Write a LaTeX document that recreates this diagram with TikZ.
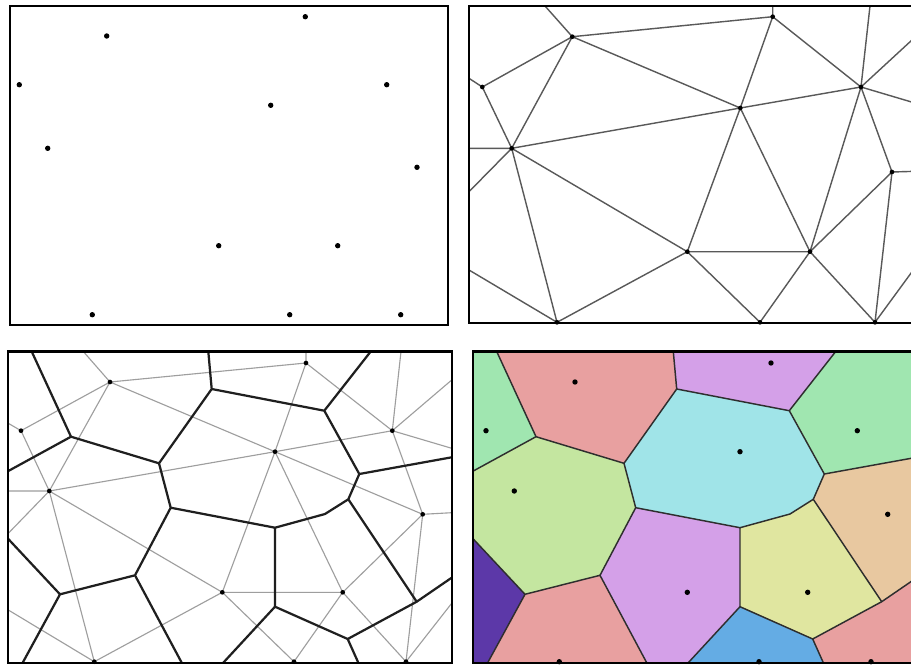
\documentclass[tikz,border=0pt]{standalone}
\definecolor{cmint}{RGB}{160,230,176}
\definecolor{csalmon}{RGB}{232,160,160}
\definecolor{cviolet}{RGB}{212,160,232}
\definecolor{ccyan}{RGB}{160,228,232}
\definecolor{clime}{RGB}{196,230,160}
\definecolor{ctan}{RGB}{232,200,160}
\definecolor{cyellow}{RGB}{224,230,160}
\definecolor{cblue}{RGB}{100,172,228}
\definecolor{cdark}{RGB}{92,56,168}
\newcommand{\vorgeom}[1]{%
 \coordinate (#1TL) at (8.3,351.5);
 \coordinate (#1TR) at (451.7,351.5);
 \coordinate (#1BL) at (8.3,662.7);
 \coordinate (#1BR) at (451.7,662.7);
 \coordinate (#1v1) at (31.7,351.5);
 \coordinate (#1v2) at (71,436.7);
 \coordinate (#1v3) at (8.3,471);
 \coordinate (#1v4) at (159,463.3);
 \coordinate (#1v5) at (208.3,351.5);
 \coordinate (#1v6) at (211.7,389);
 \coordinate (#1v7) at (324.3,410.7);
 \coordinate (#1v8) at (370.7,351.5);
 \coordinate (#1v9) at (359.3,474);
 \coordinate (#1v10) at (451.7,457.3);
 \coordinate (#1v11) at (348.3,499.3);
 \coordinate (#1v12) at (325,514);
 \coordinate (#1v13) at (275,527.7);
 \coordinate (#1v14) at (170.7,507.7);
 \coordinate (#1v15) at (135,575.3);
 \coordinate (#1v16) at (60,594.3);
 \coordinate (#1v17) at (8.3,539);
 \coordinate (#1v18) at (22.7,662.7);
 \coordinate (#1v19) at (181.7,662.7);
 \coordinate (#1v20) at (275,606.7);
 \coordinate (#1v21) at (223.3,662.7);
 \coordinate (#1v22) at (347.7,639);
 \coordinate (#1v23) at (358.3,662.7);
 \coordinate (#1v24) at (416.7,601.7);
 \coordinate (#1v25) at (451.7,577.7);
 \coordinate (#1A) at (110,382);
 \coordinate (#1B) at (306,363);
 \coordinate (#1C) at (21,430.7);
 \coordinate (#1D) at (275,451.7);
 \coordinate (#1E) at (392.3,430.7);
 \coordinate (#1F) at (49.3,491);
 \coordinate (#1G) at (422.7,514.3);
 \coordinate (#1H) at (222.3,592.3);
 \coordinate (#1I) at (342.7,592.3);
 \coordinate (#1J) at (94.3,661.7);
 \coordinate (#1K) at (294,661.7);
 \coordinate (#1L) at (406,661.7);
}
\newcommand{\voredges}[2]{%
 \draw[#2] (#1v1)--(#1v2)--(#1v3) (#1v2)--(#1v4)--(#1v6)--(#1v5)
  (#1v6)--(#1v7)--(#1v8) (#1v7)--(#1v9)--(#1v10)
  (#1v9)--(#1v11)--(#1v12)--(#1v13)--(#1v14)--(#1v4)
  (#1v14)--(#1v15)--(#1v16)--(#1v17) (#1v16)--(#1v18) (#1v15)--(#1v19)
  (#1v13)--(#1v20)--(#1v21) (#1v20)--(#1v22)--(#1v23)
  (#1v22)--(#1v24)--(#1v11) (#1v24)--(#1v25);
}
\newcommand{\vorsites}[2]{%
 \foreach \s in {A,B,C,D,E,F,G,H,I,J,K,L} {\node[#2] (#1dot\s) at (#1\s) {};}
}
\begin{document}
\begin{tikzpicture}[x=0.03cm,y=-0.03cm,
  frame/.style={draw=black,line width=2pt},
  dedge/.style={draw=black!65,line width=1.2pt,line cap=round},
  dlight/.style={draw=black!38,line width=0.95pt},
  vedge/.style={draw=black!88,line width=1.9pt,line join=round},
  vedgefour/.style={draw=black!82,line width=1.25pt,line join=round},
  dot/.style={circle,fill=black,inner sep=0pt,minimum size=4.6pt},
  sdot/.style={circle,fill=black,inner sep=0pt,minimum size=4pt}]
\useasboundingbox (0,0) rectangle (911,665);
\clip (0,0) rectangle (911,665);
\fill[white] (0,0) rectangle (911,665);

% ---------- panel 1: sites ----------
\foreach \n/\x/\y in {a/106.7/36, b/305.3/16.7, c/19.3/84.7, d/270.7/105.3,
  e/386.7/84.7, f/47.7/148.3, g/417/167.3, h/218.7/245.7, i/337.7/245.7,
  j/92.3/314.7, k/289.7/314.7, l/400.7/314.7}
  \node[dot] (one\n) at (\x,\y) {};
\draw[frame] (10,6) rectangle (448,325);

% ---------- panel 2: Delaunay triangulation ----------
\coordinate (tA) at (572.3,36.7);
\coordinate (tB) at (772.7,16.7);
\coordinate (tC) at (482.3,87);
\coordinate (tD) at (740.3,108);
\coordinate (tE) at (861,87);
\coordinate (tF) at (511.7,148.3);
\coordinate (tG) at (892,172);
\coordinate (tH) at (687.3,251.7);
\coordinate (tI) at (810,251.7);
\coordinate (tJ) at (557,322.3);
\coordinate (tK) at (760,322.3);
\coordinate (tL) at (875,322.3);
\coordinate (tAt) at (545,6);
\coordinate (tBt) at (772.7,6);
\coordinate (tEt) at (870,6);
\coordinate (tEr1) at (925,28);
\coordinate (tEr2) at (925,106);
\coordinate (tGr) at (925,171);
\coordinate (tLr) at (925,254);
\coordinate (tCl) at (469,78.3);
\coordinate (tFl) at (469,148.3);
\coordinate (tFl2) at (469,191.7);
\coordinate (tJl) at (469,270);
\draw[dedge] (tA)--(tB) (tA)--(tAt) (tA)--(tC) (tA)--(tF) (tA)--(tD)
  (tB)--(tD) (tB)--(tE) (tB)--(tBt) (tC)--(tF) (tC)--(tCl)
  (tD)--(tF) (tD)--(tE) (tD)--(tH) (tD)--(tI)
  (tE)--(tEt) (tE)--(tEr1) (tE)--(tEr2) (tE)--(tG) (tE)--(tI)
  (tF)--(tFl) (tF)--(tFl2) (tF)--(tH) (tF)--(tJ)
  (tG)--(tGr) (tG)--(tI) (tG)--(tL)
  (tH)--(tI) (tH)--(tJ) (tH)--(tK) (tI)--(tK) (tI)--(tL)
  (tJ)--(tJl) (tL)--(tLr);
\foreach \s in {A,B,C,D,E,F,G,H,I,J,K,L} \node[sdot] (tdot\s) at (t\s) {};
\draw[frame] (469.3,6) rectangle (930,323.3);

% ---------- panel 3: Delaunay + Voronoi ----------
\vorgeom{p}
\coordinate (pAt) at (83.3,351.5);
\coordinate (pBt) at (306,351.5);
\coordinate (pEt) at (401,351.5);
\coordinate (pCl) at (8.3,423.3);
\coordinate (pFl) at (8.3,491);
\coordinate (pFl2) at (8.3,533.3);
\coordinate (pJl) at (8.3,610);
\coordinate (pEr1) at (451.7,380);
\coordinate (pEr2) at (451.7,448.3);
\coordinate (pGr) at (451.7,512.7);
\coordinate (pLr) at (451.7,603.3);
\draw[dlight] (pA)--(pB) (pA)--(pAt) (pA)--(pC) (pA)--(pF) (pA)--(pD)
  (pB)--(pD) (pB)--(pE) (pB)--(pBt) (pC)--(pF) (pC)--(pCl)
  (pD)--(pF) (pD)--(pE) (pD)--(pH) (pD)--(pI) (pD)--(pG)
  (pE)--(pEt) (pE)--(pEr1) (pE)--(pEr2) (pE)--(pG)
  (pF)--(pFl) (pF)--(pFl2) (pF)--(pH) (pF)--(pJ)
  (pG)--(pGr) (pG)--(pI) (pG)--(pL)
  (pH)--(pI) (pH)--(pJ) (pH)--(pK) (pI)--(pK) (pI)--(pL)
  (pJ)--(pJl) (pL)--(pLr);
\voredges{p}{vedge}
\vorsites{p}{sdot}
\draw[frame] (pTL) rectangle (pBR);

% ---------- panel 4: coloured Voronoi cells ----------
\begin{scope}[shift={(465,0)}]
\vorgeom{q}
\fill[cmint] (qTL)--(qv1)--(qv2)--(qv3)--cycle;
\fill[csalmon] (qv1)--(qv5)--(qv6)--(qv4)--(qv2)--cycle;
\fill[cviolet] (qv5)--(qv8)--(qv7)--(qv6)--cycle;
\fill[cmint] (qv8)--(qTR)--(qv10)--(qv9)--(qv7)--cycle;
\fill[ccyan] (qv6)--(qv7)--(qv9)--(qv11)--(qv12)--(qv13)--(qv14)--(qv4)--cycle;
\fill[clime] (qv3)--(qv2)--(qv4)--(qv14)--(qv15)--(qv16)--(qv17)--cycle;
\fill[cdark] (qv17)--(qv16)--(qv18)--(qBL)--cycle;
\fill[csalmon] (qv16)--(qv15)--(qv19)--(qv18)--cycle;
\fill[cviolet] (qv14)--(qv13)--(qv20)--(qv21)--(qv19)--(qv15)--cycle;
\fill[cyellow] (qv13)--(qv12)--(qv11)--(qv24)--(qv22)--(qv20)--cycle;
\fill[ctan] (qv10)--(qv9)--(qv11)--(qv24)--(qv25)--cycle;
\fill[cblue] (qv20)--(qv22)--(qv23)--(qv21)--cycle;
\fill[csalmon] (qv22)--(qv24)--(qv25)--(qBR)--(qv23)--cycle;
\voredges{q}{vedgefour}
\vorsites{q}{dot}
\draw[frame] (qTL) rectangle (qBR);
\end{scope}
\end{tikzpicture}
\end{document}
